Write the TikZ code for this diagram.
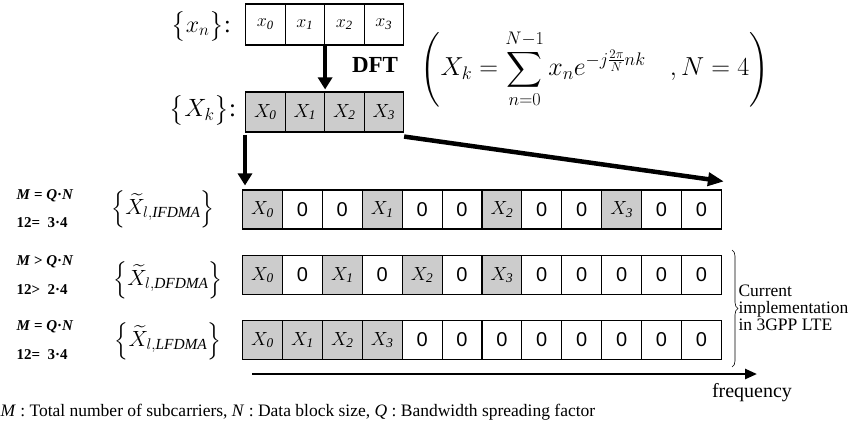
\RequirePackage{fix-cm}
\documentclass[tikz,border=0pt]{standalone}
\usepackage{amsmath}
\usepackage{fontspec}
\setmainfont{Liberation Serif}
\newfontfamily\zerofont{Liberation Sans}
\usetikzlibrary{arrows.meta,decorations.pathreplacing}
\tikzset{
  cellbase/.style={draw, line width=1.1pt, minimum width=39.9pt, minimum height=39pt, inner sep=0pt, anchor=west},
  zeroc/.style={cellbase, fill=white, font=\zerofont\fontsize{20}{20}\selectfont},
  grayc/.style={cellbase, fill=gray!40, font=\fontsize{19}{19}\selectfont},
  topc/.style={draw, line width=1.1pt, minimum width=39.5pt, minimum height=41pt, inner sep=0pt, anchor=west, fill=white, font=\fontsize{18}{18}\selectfont},
  topg/.style={topc, minimum height=40pt, fill=gray!40, font=\fontsize{19}{19}\selectfont},
  bigarrow/.style={line width=4pt, -{Triangle[length=12pt,width=14pt]}},
  mlab/.style={anchor=west, font=\bfseries\fontsize{15}{15}\selectfont},
  setlab/.style={font=\fontsize{22}{22}\selectfont},
}
\begin{document}
\begin{tikzpicture}[x=1pt,y=-1pt]
\useasboundingbox (0,0) rectangle (851,434);

% top rows
\foreach \tx [count=\i from 0] in {$x_{\mathit 0}$,$x_{\mathit 1}$,$x_{\mathit 2}$,$x_{\mathit 3}$}
  \node[topc] (xn\i) at ({245+39.5*\i},24.5) {\tx};
\foreach \tx [count=\i from 0] in {$X_{\mathit 0}$,$X_{\mathit 1}$,$X_{\mathit 2}$,$X_{\mathit 3}$}
  \node[topg] (Xk\i) at ({245+39.5*\i},112) {\tx};

\node[inner sep=0pt, font=\fontsize{24}{24}\selectfont] (lxn) at (201,26) {$\bigl\{x_n\bigr\}$:};
\node[inner sep=0pt, font=\fontsize{25}{25}\selectfont] (lXk) at (203,110) {$\bigl\{X_k\bigr\}$:};
\node[font=\bfseries\fontsize{23}{23}\selectfont] (dft) at (375,65) {DFT};
\node[font=\fontsize{26}{28}\selectfont] (formula) at (595,69)
  {$\displaystyle\Biggl( X_k=\sum_{n=0}^{N-1} x_n e^{-j\frac{2\pi}{N}nk}\hspace{24pt} , N=4\Biggr)$};

% frequency rows
\foreach \st/\tx [count=\i from 0] in {grayc/$X_{\mathit 0}$,zeroc/0,zeroc/0,grayc/$X_{\mathit 1}$,zeroc/0,zeroc/0,grayc/$X_{\mathit 2}$,zeroc/0,zeroc/0,grayc/$X_{\mathit 3}$,zeroc/0,zeroc/0}
  \node[\st] (ra\i) at ({242+39.9*\i},209.5) {\tx};
\foreach \st/\tx [count=\i from 0] in {grayc/$X_{\mathit 0}$,zeroc/0,grayc/$X_{\mathit 1}$,zeroc/0,grayc/$X_{\mathit 2}$,zeroc/0,grayc/$X_{\mathit 3}$,zeroc/0,zeroc/0,zeroc/0,zeroc/0,zeroc/0}
  \node[\st] (rb\i) at ({242+39.9*\i},275) {\tx};
\foreach \st/\tx [count=\i from 0] in {grayc/$X_{\mathit 0}$,grayc/$X_{\mathit 1}$,grayc/$X_{\mathit 2}$,grayc/$X_{\mathit 3}$,zeroc/0,zeroc/0,zeroc/0,zeroc/0,zeroc/0,zeroc/0,zeroc/0,zeroc/0}
  \node[\st] (rc\i) at ({242+39.9*\i},340) {\tx};

% arrows
\draw[bigarrow, shorten >=2pt] (xn1.south east) -- (Xk1.north east);
\draw[bigarrow, shorten <=2pt, shorten >=4pt] (Xk0.south west) -- (Xk0.south west |- ra0.north);
\coordinate (longend) at ([shift={(2,-8)}]ra11.north east);
\draw[line width=4.5pt, -{Triangle[length=16pt,width=13pt]}] ([shift={(0,4)}]Xk3.south east) -- (longend);

% left labels
\node[mlab] (m1) at (13,196) {\textit{M} = \textit{Q}·\textit{N}};
\node[mlab] (n1) at (13,223) {12=\ \ 3·4};
\node[mlab] (m2) at (13,262) {\textit{M} > \textit{Q}·\textit{N}};
\node[mlab] (n2) at (13,290) {12>\ \ 2·4};
\node[mlab] (m3) at (13,327) {\textit{M} = \textit{Q}·\textit{N}};
\node[mlab] (n3) at (13,355) {12=\ \ 3·4};

\node[setlab] (s1) at (163,209) {$\Bigl\{\widetilde{X}_{l,\mathit{IFDMA}}\Bigr\}$};
\node[setlab] (s2) at (168,280) {$\Bigl\{\widetilde{X}_{l,\mathit{DFDMA}}\Bigr\}$};
\node[setlab] (s3) at (168,341) {$\Bigl\{\widetilde{X}_{l,\mathit{LFDMA}}\Bigr\}$};

% frequency axis
\coordinate (fs) at (252,374);
\coordinate (fe) at (757,374);
\draw[line width=2.5pt, -{Triangle[length=12pt,width=10pt]}] (fs) -- (fe);
\node[font=\fontsize{20}{20}\selectfont] (freq) at (752,393) {frequency};

% brace
\coordinate (bt) at (732,250);
\coordinate (bb) at (732,367);
\draw[decorate, decoration={brace, amplitude=6pt}, line width=0.6pt] (bt) -- (bb);
\node[anchor=west, align=left, font=\fontsize{17.5}{17}\selectfont] (impl) at (735,308) {Current\\implementation\\in 3GPP LTE};

% legend
\node[anchor=west, font=\fontsize{17.5}{17.5}\selectfont] (legend) at (-3,412)
  {\textit{M} : Total number of subcarriers, \textit{N} : Data block size, \textit{Q} : Bandwidth spreading factor};
\end{tikzpicture}
\end{document}
